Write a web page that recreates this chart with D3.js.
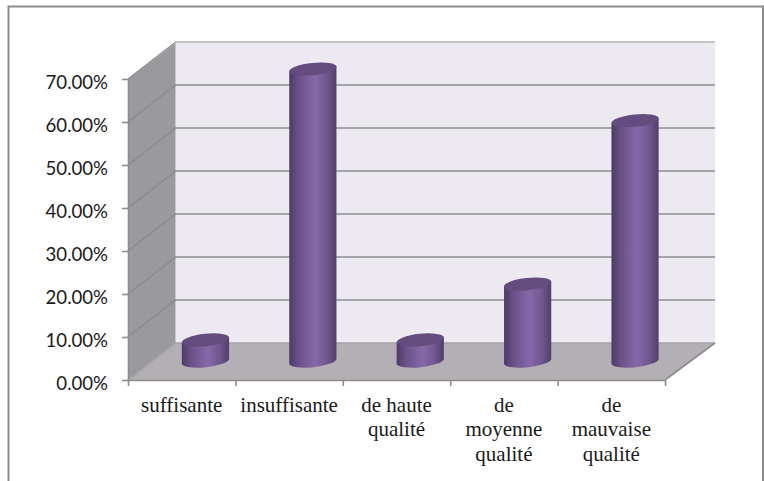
<!DOCTYPE html>
<html>
<head>
<meta charset="utf-8">
<script src="https://cdnjs.cloudflare.com/ajax/libs/d3/7.8.5/d3.min.js"></script>
<style>
  html, body { margin: 0; padding: 0; background: #fff; }
  svg { display: block; }
  .yaxis text { font-family: Lato, sans-serif; font-size: 18.6px; fill: #1a1a1a; }
  .cat { font-family: "Liberation Serif", serif; font-size: 21px; fill: #1a1a1a; }
</style>
</head>
<body>
<script>
var categories = ["suffisante", "insuffisante", "de haute qualité", "de moyenne qualité", "de mauvaise qualité"];
var categoryLines = [["suffisante"], ["insuffisante"], ["de haute", "qualité"], ["de", "moyenne", "qualité"], ["de", "mauvaise", "qualité"]];
var values = [5, 68, 5, 18, 56];
var yTicks = [0, 10, 20, 30, 40, 50, 60, 70];

var w = 764, h = 481;
var left = 128, right = 665, bottom = 380, top70 = 79;
// offset of the back wall from the front of the box
var depthX = 47.5, depthY = -37;

var svg = d3.select("body").append("svg").attr("width", w).attr("height", h);

/***Scales***/
var yScale = d3.scaleLinear().domain([0, 70]).range([bottom, top70]);
var xScale = d3.scaleBand().domain(categories).range([left, right]);
var xEdges = d3.scaleLinear().domain([0, categories.length]).range([left, right]);

/***Gradient for the cylinders***/
var grad = svg.append("defs").append("linearGradient")
              .attr("id", "cyl").attr("x1", 0).attr("x2", 1).attr("y1", 0).attr("y2", 0);
[[0, "#4d3a68"], [0.2, "#6a5288"], [0.55, "#8768a9"], [0.8, "#70578f"], [1, "#523e6e"]].forEach(function(s) {
  grad.append("stop").attr("offset", s[0]).attr("stop-color", s[1]);
});

/***Outer frame***/
svg.append("path")
   .attr("d", "M8.5," + h + "V6.5H763" + "V" + h)
   .attr("fill", "none").attr("stroke", "#8c8c8c").attr("stroke-width", 2);

/***Walls and floor***/
function pts(a) { return a.map(function(p) { return p.join(","); }).join(" "); }
var backL = left + depthX, backR = right + depthX + 2.5;
var backBottom = bottom + depthY, backTop = top70 - 43 + 7;

svg.append("polygon")
   .attr("points", pts([[backL, backTop], [backR, backTop], [backR, backBottom], [backL, backBottom]]))
   .attr("fill", "#ece9f1");
svg.append("polygon")
   .attr("points", pts([[left, top70], [backL, backTop], [backL, backBottom], [left, bottom]]))
   .attr("fill", "#9a999d");
svg.append("polygon")
   .attr("points", pts([[left, bottom], [right, bottom], [backR, backBottom], [backL, backBottom]]))
   .attr("fill", "#b4afb5");

/***Grid lines, on the side wall and the back wall***/
var grid = svg.append("g");
yTicks.forEach(function(t) {
  var y = yScale(t);
  grid.append("path")
      .attr("d", "M" + left + "," + y + "L" + backL + "," + (y + depthY) + "H" + backR)
      .attr("fill", "none")
      .attr("stroke", t === 0 ? "#a5a3a7" : "#8d8d8d")
      .attr("stroke-width", t === 70 ? 1.2 : 1.6);
});
svg.append("path")
   .attr("d", "M" + right + "," + bottom + "L" + backR + "," + backBottom)
   .attr("fill", "none").attr("stroke", "#8d8d8d").attr("stroke-width", 1.6);

/***Axes***/
var yAxis = d3.axisLeft(yScale)
              .tickValues(yTicks)
              .tickSize(6).tickSizeOuter(0).tickPadding(14)
              .tickFormat(function(d) { return d.toFixed(2) + "%"; });
var xAxis = d3.axisBottom(xEdges)
              .tickValues(d3.range(categories.length + 1))
              .tickSize(6).tickSizeOuter(0)
              .tickFormat("");

var ya = svg.append("g").attr("class", "yaxis").attr("transform", "translate(" + left + ",0)").call(yAxis);
var xa = svg.append("g").attr("class", "xaxis").attr("transform", "translate(0," + bottom + ")").call(xAxis);
svg.selectAll(".yaxis path, .yaxis line, .xaxis path, .xaxis line")
   .attr("stroke", "#8d8d8d").attr("stroke-width", 1.6);
ya.selectAll("text").attr("dy", "0.5em");

/***Cylinders***/
var rx = 23.8, ry = 6.2, tilt = -6;
var tipX = 23.6, tipY = 2.5;

var bars = svg.selectAll(".bar")
              .data(values)
              .enter().append("g")
              .attr("class", "bar")
              .attr("transform", function(d, i) {
                return "translate(" + (xScale(categories[i]) + xScale.bandwidth() / 2 + depthX / 2) + "," + (depthY / 2) + ")";
              });

bars.append("path")
    .attr("fill", "url(#cyl)")
    .attr("d", function(d) {
      var yb = bottom, yt = yScale(d);
      return "M" + (-tipX) + "," + (yt + tipY)
           + "L" + (-tipX) + "," + (yb + tipY)
           + "A" + rx + "," + ry + " " + tilt + " 0 0 " + tipX + "," + (yb - tipY)
           + "L" + tipX + "," + (yt - tipY) + "Z";
    });
bars.append("ellipse")
    .attr("rx", rx).attr("ry", ry)
    .attr("fill", "#644d7e")
    .attr("transform", function(d) { return "translate(0," + yScale(d) + ")rotate(" + tilt + ")"; });

/***Category labels***/
var lineGap = 24.4;
svg.selectAll(".cat")
   .data(categoryLines)
   .enter().append("text")
   .attr("class", "cat")
   .attr("text-anchor", "middle")
   .attr("transform", function(d, i) {
     return "translate(" + (xScale(categories[i]) + xScale.bandwidth() / 2) + ",412)";
   })
   .selectAll("tspan")
   .data(function(d) { return d; })
   .enter().append("tspan")
   .attr("x", 0)
   .attr("y", function(d, i) { return i * lineGap; })
   .text(function(d) { return d; });
</script>
</body>
</html>
